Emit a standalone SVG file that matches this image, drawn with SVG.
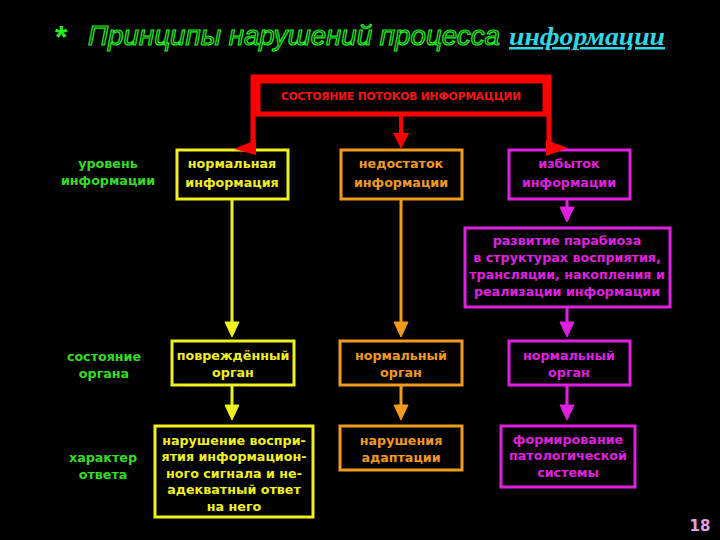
<svg xmlns="http://www.w3.org/2000/svg" width="720" height="540" viewBox="0 0 720 540">
<style>
.t{font-family:"DejaVu Sans","Liberation Sans",sans-serif;font-weight:bold;font-size:12.7px;text-anchor:middle}
.y{fill:#F0F020}.ys{stroke:#F0F020}
.o{fill:#F29A1E}.os{stroke:#F29A1E}
.m{fill:#E020E0}.ms{stroke:#E020E0}
.g{fill:#33DD22}
.box{fill:#000;stroke-width:3}
.ln{fill:none;stroke-width:3}
</style>
<rect width="720" height="540" fill="#000"/>
<g id="title">
<text x="55" y="48" font-family="Liberation Sans,sans-serif" font-weight="bold" font-size="32" fill="#22EE22">*</text>
<text x="88" y="45" font-family="Liberation Sans,sans-serif" font-style="italic" font-size="28" fill="#001800" stroke="#22EE22" stroke-width="1.2" textLength="412" lengthAdjust="spacingAndGlyphs">Принципы нарушений процесса</text>
<text x="509" y="45" font-family="Liberation Serif,serif" font-style="italic" font-weight="bold" font-size="25" fill="#2ED8E8" text-decoration="underline" textLength="156" lengthAdjust="spacingAndGlyphs">информации</text>
</g>
<g id="top">
<rect x="258" y="81" width="287" height="33" fill="#000" stroke="#FF0000" stroke-width="5"/>
<text x="401" y="100" font-family="DejaVu Sans,sans-serif" font-weight="bold" font-size="10.5" fill="#FF1010" text-anchor="middle">СОСТОЯНИЕ ПОТОКОВ ИНФОРМАЦЦИИ</text>
</g>
<g id="lbl1"><text x="108" y="168" class="t g">уровень</text><text x="108" y="185" class="t g">информации</text></g>
<g id="lbl2"><text x="104" y="361" class="t g">состояние</text><text x="104" y="378" class="t g">органа</text></g>
<g id="lbl3"><text x="103" y="462" class="t g">характер</text><text x="103" y="479" class="t g">ответа</text></g>
<g id="n1"><rect class="box ys" x="177" y="150" width="111" height="49"/><text x="232" y="168" class="t y">нормальная</text><text x="232" y="187" class="t y">информация</text></g>
<g id="n2"><rect class="box os" x="341" y="150" width="121" height="49"/><text x="401" y="168" class="t o">недостаток</text><text x="401" y="187" class="t o">информации</text></g>
<g id="n3"><rect class="box ms" x="509" y="150" width="121" height="49"/><text x="569" y="168" class="t m">избыток</text><text x="569" y="187" class="t m">информации</text></g>
<g id="n4"><rect class="box ms" x="465" y="228" width="205" height="79"/>
<text x="567" y="245" class="t m">развитие парабиоза</text>
<text x="567" y="262" class="t m">в структурах восприятия,</text>
<text x="567" y="279" class="t m">трансляции, накопления и</text>
<text x="567" y="296" class="t m">реализации информации</text></g>
<g id="n5"><rect class="box ys" x="172" y="341" width="122" height="44"/><text x="233" y="360" class="t y">повреждённый</text><text x="233" y="377" class="t y">орган</text></g>
<g id="n6"><rect class="box os" x="340" y="341" width="122" height="44"/><text x="401" y="360" class="t o">нормальный</text><text x="401" y="377" class="t o">орган</text></g>
<g id="n7"><rect class="box ms" x="509" y="341" width="121" height="44"/><text x="569" y="360" class="t m">нормальный</text><text x="569" y="377" class="t m">орган</text></g>
<g id="n8"><rect class="box ys" x="155" y="426" width="158" height="91"/>
<text x="234" y="445" class="t y">нарушение воспри-</text>
<text x="234" y="461" class="t y">ятия информацион-</text>
<text x="234" y="478" class="t y">ного сигнала и не-</text>
<text x="234" y="494" class="t y">адекватный ответ</text>
<text x="234" y="511" class="t y">на него</text></g>
<g id="n9"><rect class="box os" x="340" y="426" width="122" height="44"/><text x="401" y="445" class="t o">нарушения</text><text x="401" y="462" class="t o">адаптации</text></g>
<g id="n10"><rect class="box ms" x="501" y="426" width="134" height="61"/>
<text x="568" y="444" class="t m">формирование</text>
<text x="568" y="460" class="t m">патологической</text>
<text x="568" y="477" class="t m">системы</text></g>
<g id="connectors">
<path d="M253,145 V77 H549 V145" fill="none" stroke="#FF0000" stroke-width="5"/>
<line x1="401" y1="114" x2="401" y2="136" stroke="#FF0000" stroke-width="4"/>
<polygon points="393,133 409,133 401,149" fill="#FF0000"/>
<polygon points="234,149 256,140 256,155" fill="#FF0000"/>
<polygon points="568,148 546,140 546,156" fill="#FF0000"/>
<g class="ys">
<line class="ln" x1="232" y1="199" x2="232" y2="324"/>
<polygon class="y" points="225,322 239,322 232,337"/>
<line class="ln" x1="232" y1="385" x2="232" y2="407"/>
<polygon class="y" points="225,405 239,405 232,420"/>
</g>
<g class="os">
<line class="ln" x1="401" y1="199" x2="401" y2="324"/>
<polygon class="o" points="394,322 408,322 401,337"/>
<line class="ln" x1="401" y1="385" x2="401" y2="407"/>
<polygon class="o" points="394,405 408,405 401,420"/>
</g>
<g class="ms">
<line class="ln" x1="567" y1="199" x2="567" y2="209"/>
<polygon class="m" points="560,207 574,207 567,222"/>
<line class="ln" x1="567" y1="307" x2="567" y2="324"/>
<polygon class="m" points="560,322 574,322 567,337"/>
<line class="ln" x1="567" y1="385" x2="567" y2="407"/>
<polygon class="m" points="560,405 574,405 567,420"/>
</g>
</g>
<text x="700" y="531" font-family="DejaVu Sans,sans-serif" font-weight="bold" font-size="15" fill="#E0A0E0" text-anchor="middle">18</text>
</svg>
